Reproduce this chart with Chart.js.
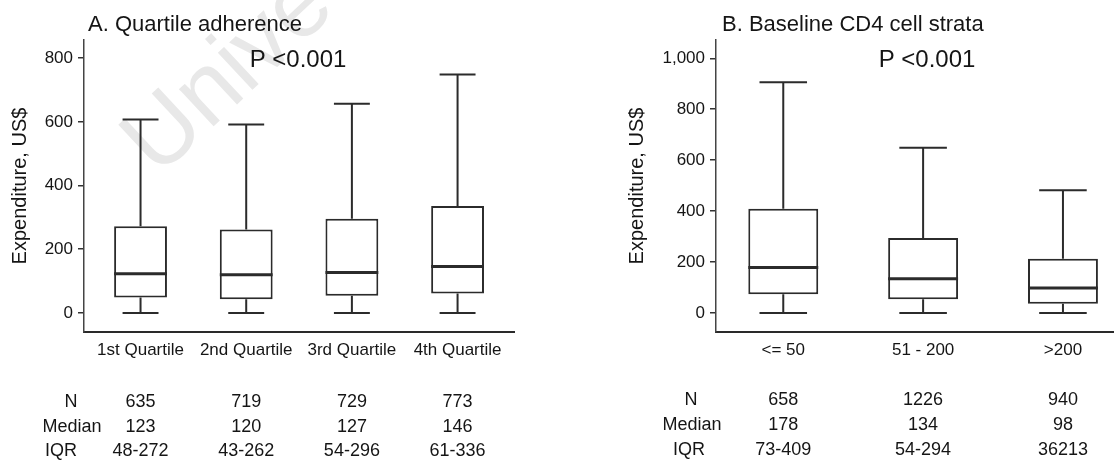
<!DOCTYPE html>
<html>
<head>
<meta charset="utf-8">
<script src="https://cdn.jsdelivr.net/npm/chart.js@4.4.1/dist/chart.umd.min.js"></script>
<style>
  body { margin: 0; background: #fff; }
  .panels { display: flex; width: 1114px; height: 461px; }
  canvas { display: block; }
</style>
</head>
<body>
<div class="panels">
  <canvas id="graph-1" width="557" height="461"></canvas>
  <canvas id="graph-2" width="557" height="461"></canvas>
</div>
<script>
// A. adherence quartiles
const adherenceCats = ["1st Quartile", "2nd Quartile", "3rd Quartile", "4th Quartile"];
const adherenceLow = [0, 0, 0, 0];
const adherenceQ1 = [48, 43, 54, 61];
const adherenceMedian = [123, 120, 127, 146];
const adherenceQ3 = [272, 262, 296, 336];
const adherenceHigh = [607, 592, 657, 749];
const adherenceN = [635, 719, 729, 773];
const adherenceIqr = ["48-272", "43-262", "54-296", "61-336"];
const adherenceTicks = [0, 200, 400, 600, 800];

// B. baseline CD4 strata
const cd4Cats = ["<= 50", "51 - 200", ">200"];
const cd4Low = [0, 0, 0];
const cd4Q1 = [73, 54, 36];
const cd4Median = [178, 134, 98];
const cd4Q3 = [409, 294, 213];
const cd4High = [906, 649, 482];
const cd4N = [658, 1226, 940];
const cd4Iqr = ["73-409", "54-294", "36213"];
const cd4Ticks = [0, 200, 400, 600, 800, 1000];

const FONT = "'Liberation Sans', Arial, Helvetica, sans-serif";
const INK = "#151515";
const LINE = "#2b2b2b";

// whiskers, caps and median line on top of the floating bars
const boxWhiskers = {
  id: "boxWhiskers",
  afterDatasetsDraw(chart, args, opts) {
    const ctx = chart.ctx;
    const y = chart.scales.y;
    const bars = chart.getDatasetMeta(0).data;
    ctx.save();
    ctx.strokeStyle = LINE;
    bars.forEach((bar, i) => {
      const half = bar.width / 2;
      const cap = half * 0.68;
      const yLow = y.getPixelForValue(opts.low[i]);
      const yQ1 = y.getPixelForValue(opts.q1[i]);
      const yQ3 = y.getPixelForValue(opts.q3[i]);
      const yHigh = y.getPixelForValue(opts.high[i]);
      const yMed = y.getPixelForValue(opts.median[i]);

      ctx.lineWidth = 2;
      ctx.beginPath();
      ctx.moveTo(bar.x, yQ3);
      ctx.lineTo(bar.x, yHigh);
      ctx.moveTo(bar.x - cap, yHigh);
      ctx.lineTo(bar.x + cap, yHigh);
      ctx.moveTo(bar.x, yQ1);
      ctx.lineTo(bar.x, yLow);
      ctx.moveTo(bar.x - cap, yLow);
      ctx.lineTo(bar.x + cap, yLow);
      ctx.stroke();

      ctx.lineWidth = 3;
      ctx.beginPath();
      ctx.moveTo(bar.x - half, yMed);
      ctx.lineTo(bar.x + half, yMed);
      ctx.stroke();
    });
    ctx.restore();
  },
};

// panel heading, p value and the N / Median / IQR table under the axis
const panelText = {
  id: "panelText",
  beforeDraw(chart, args, opts) {
    if (!opts.watermark) return;
    const ctx = chart.ctx;
    ctx.save();
    ctx.translate(158, 178);
    ctx.rotate(-0.75);
    ctx.font = "96px " + FONT;
    ctx.fillStyle = "#e8e8e8";
    ctx.fillText(opts.watermark, 0, 0);
    ctx.restore();
  },
  afterDraw(chart, args, opts) {
    const ctx = chart.ctx;
    const x = chart.scales.x;
    ctx.save();
    ctx.fillStyle = INK;
    ctx.textBaseline = "middle";

    ctx.font = "22px " + FONT;
    ctx.textAlign = "left";
    ctx.fillText(opts.title, opts.titleX, 25);

    ctx.font = "24px " + FONT;
    ctx.textAlign = "center";
    ctx.fillText("P <0.001", opts.pX, 60);

    ctx.font = "18px " + FONT;
    opts.rows.forEach((row, r) => {
      ctx.fillText(row.label, opts.labelX[r], opts.rowY[r]);
      row.values.forEach((v, i) => {
        ctx.fillText(String(v), x.getPixelForValue(i), opts.rowY[r]);
      });
    });
    ctx.restore();
  },
};

function makeBoxChart(id, cats, low, q1, median, q3, high, ticks, axis, text) {
  const ctx = document.getElementById(id).getContext("2d");
  return new Chart(ctx, {
    type: "bar",
    data: {
      datasets: [
        {
          data: q1.map((v, i) => ({ x: i, y: [v, q3[i]] })),
          backgroundColor: "#ffffff",
          borderColor: LINE,
          borderWidth: 2,
          borderSkipped: false,
          barPercentage: 0.5,
          categoryPercentage: 1,
        },
      ],
    },
    options: {
      responsive: false,
      animation: false,
      layout: { padding: { top: 40, right: axis.padRight, left: 0, bottom: 0 } },
      scales: {
        x: {
          type: "linear",
          offset: false,
          min: axis.xMin,
          max: axis.xMax,
          afterBuildTicks: (s) => {
            s.ticks = cats.map((c, i) => ({ value: i }));
          },
          afterFit: (s) => {
            s.height = 129;
          },
          ticks: {
            callback: (v, i) => cats[i],
            autoSkip: false,
            maxRotation: 0,
            padding: 8,
            color: INK,
            font: { family: FONT, size: 17 },
          },
          grid: { display: false, drawTicks: false, offset: false },
          border: { display: true, color: "#2a2a2a", width: 2 },
        },
        y: {
          min: axis.yMin,
          max: axis.yMax,
          afterBuildTicks: (s) => {
            s.ticks = ticks.map((v) => ({ value: v }));
          },
          afterFit: (s) => {
            s.width = axis.yWidth;
          },
          ticks: {
            callback: (v) => v.toLocaleString("en-US"),
            padding: 5,
            color: INK,
            font: { family: FONT, size: 17 },
          },
          grid: { drawOnChartArea: false, tickLength: 6, color: "#333", lineWidth: 1.5 },
          border: { color: "#444", width: 1.5 },
          title: {
            display: true,
            text: "Expenditure, US$",
            color: INK,
            font: { family: FONT, size: 20 },
            padding: { top: axis.titlePad, bottom: 0 },
          },
        },
      },
      plugins: {
        legend: { display: false },
        tooltip: { enabled: false },
        boxWhiskers: { low, q1, median, q3, high },
        panelText: text,
      },
    },
    plugins: [boxWhiskers, panelText],
  });
}

const adherenceChart = makeBoxChart(
  "graph-1",
  adherenceCats, adherenceLow, adherenceQ1, adherenceMedian, adherenceQ3, adherenceHigh, adherenceTicks,
  { xMin: -0.535, xMax: 3.534, yMin: -60, yMax: 857, yWidth: 84, padRight: 43, titlePad: 8 },
  {
    title: "A. Quartile adherence",
    titleX: 88,
    pX: 298,
    watermark: "Unive",
    labelX: [71, 72, 61],
    rowY: [402, 427, 451],
    rows: [
      { label: "N", values: adherenceN },
      { label: "Median", values: adherenceMedian },
      { label: "IQR", values: adherenceIqr },
    ],
  }
);

const cd4Chart = makeBoxChart(
  "graph-2",
  cd4Cats, cd4Low, cd4Q1, cd4Median, cd4Q3, cd4High, cd4Ticks,
  { xMin: -0.481, xMax: 2.365, yMin: -75, yMax: 1072, yWidth: 159, padRight: 0, titlePad: 68 },
  {
    title: "B. Baseline CD4 cell strata",
    titleX: 165,
    pX: 370,
    watermark: null,
    labelX: [134, 135, 132],
    rowY: [400, 425, 450],
    rows: [
      { label: "N", values: cd4N },
      { label: "Median", values: cd4Median },
      { label: "IQR", values: cd4Iqr },
    ],
  }
);
</script>
</body>
</html>
